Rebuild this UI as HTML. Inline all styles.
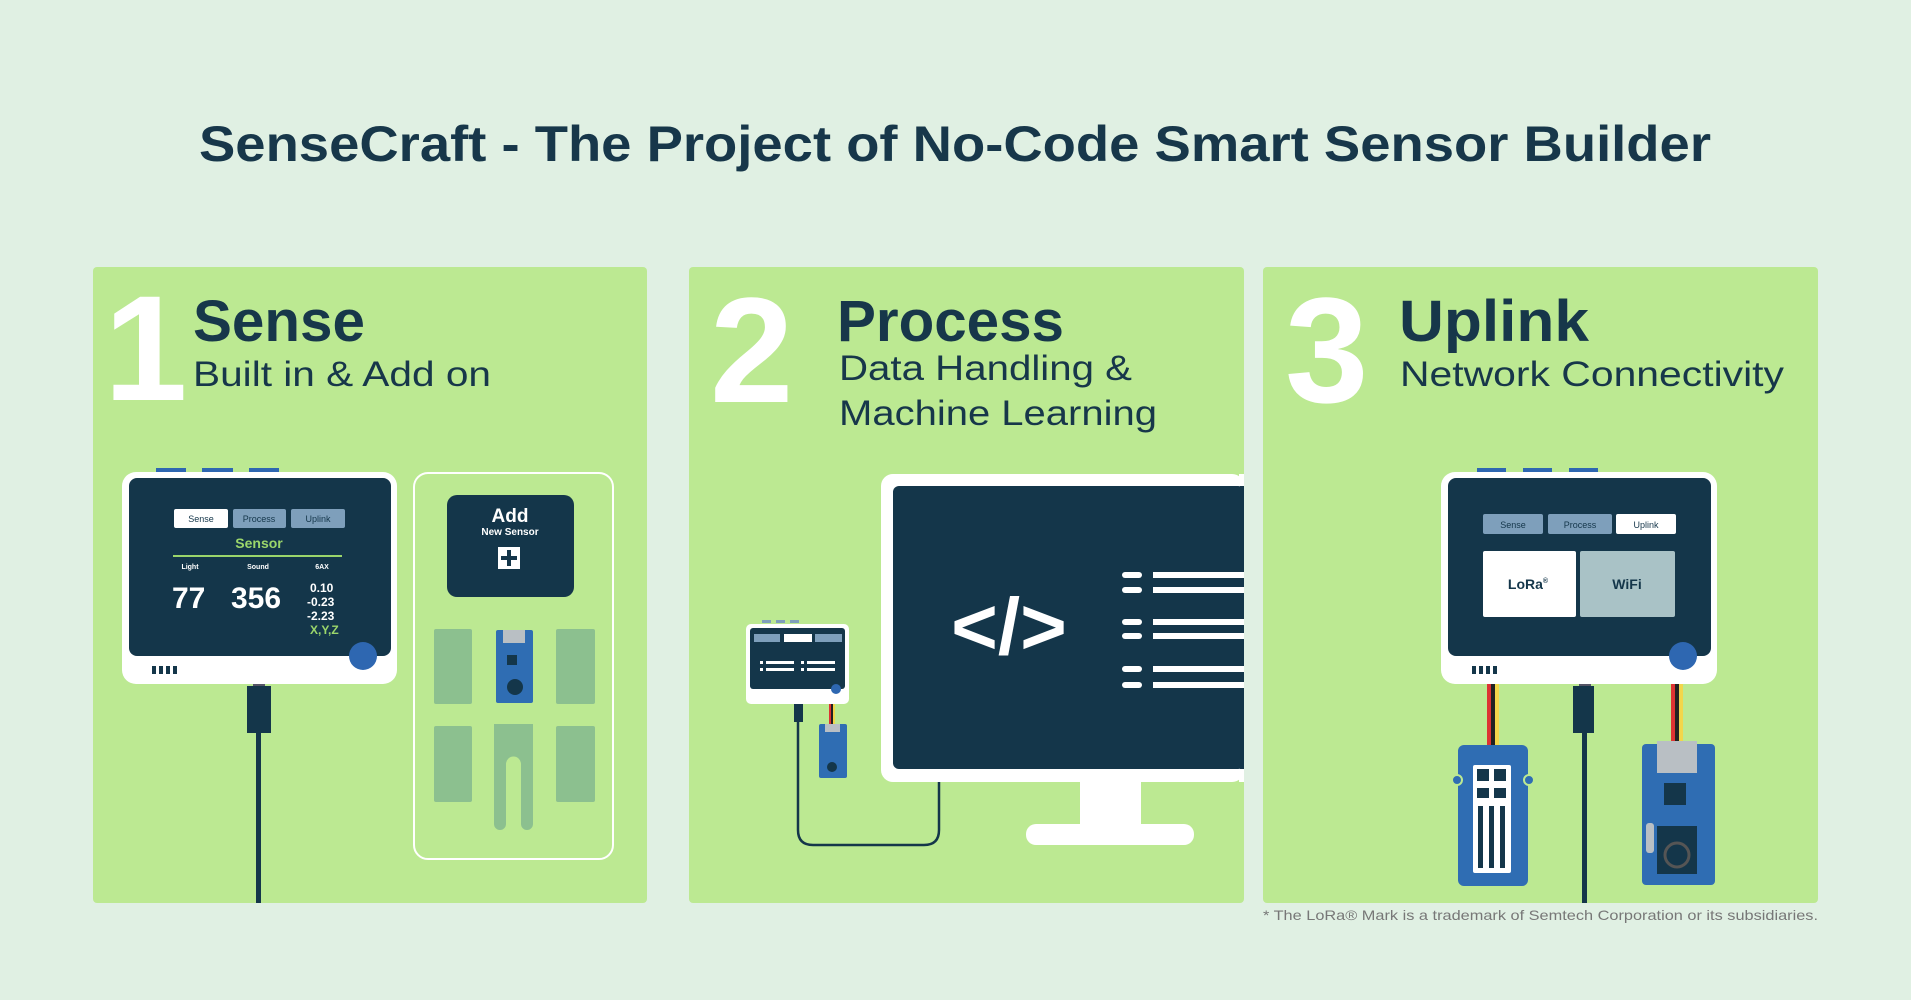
<!DOCTYPE html>
<html><head><meta charset="utf-8"><style>
html,body{margin:0;padding:0;background:#e0f0e3;}
svg{display:block;font-family:"Liberation Sans",sans-serif;}
</style></head><body>
<svg width="1911" height="1000" viewBox="0 0 1911 1000" xmlns="http://www.w3.org/2000/svg">
<rect width="1911" height="1000" fill="#e0f0e3"/>
<text x="955" y="161" text-anchor="middle" font-size="50" font-weight="bold" fill="#17374a" textLength="1512" lengthAdjust="spacingAndGlyphs">SenseCraft - The Project of No-Code Smart Sensor Builder</text>

<!-- panels -->
<rect x="93" y="267" width="554" height="636" rx="4" fill="#bce992"/>
<rect x="689" y="267" width="555" height="636" rx="4" fill="#bce992"/>
<rect x="1263" y="267" width="555" height="636" rx="4" fill="#bce992"/>

<!-- panel 1 headings -->
<text x="104" y="400" font-size="150" font-weight="bold" fill="#fff">1</text>
<text x="193" y="341" font-size="58" font-weight="bold" fill="#17374a" textLength="172" lengthAdjust="spacingAndGlyphs">Sense</text>
<text x="193" y="386" font-size="35" fill="#17374a" textLength="298" lengthAdjust="spacingAndGlyphs">Built in &amp; Add on</text>

<!-- device 1 -->
<rect x="156" y="468" width="30" height="5" fill="#2e67b1"/>
<rect x="202" y="468" width="31" height="5" fill="#2e67b1"/>
<rect x="249" y="468" width="30" height="5" fill="#2e67b1"/>
<rect x="122" y="472" width="275" height="212" rx="14" fill="#fff"/>
<rect x="129" y="478" width="262" height="178" rx="8" fill="#14364a"/>
<rect x="174" y="509" width="54" height="19" rx="2" fill="#fff"/>
<rect x="233" y="509" width="53" height="19" rx="2" fill="#7e9fbb"/>
<rect x="291" y="509" width="54" height="19" rx="2" fill="#7e9fbb"/>
<text x="201" y="522" font-size="9" text-anchor="middle" fill="#14364a">Sense</text>
<text x="259" y="522" font-size="9" text-anchor="middle" fill="#14364a">Process</text>
<text x="318" y="522" font-size="9" text-anchor="middle" fill="#14364a">Uplink</text>
<text x="259" y="548" font-size="14" font-weight="bold" text-anchor="middle" fill="#9bd66b">Sensor</text>
<rect x="173" y="555" width="169" height="2" fill="#9bd66b"/>
<text x="190" y="569" font-size="7" font-weight="bold" text-anchor="middle" fill="#fff">Light</text>
<text x="258" y="569" font-size="7" font-weight="bold" text-anchor="middle" fill="#fff">Sound</text>
<text x="322" y="569" font-size="7" font-weight="bold" text-anchor="middle" fill="#fff">6AX</text>
<text x="172" y="608" font-size="30" font-weight="bold" fill="#fff">77</text>
<text x="231" y="608" font-size="30" font-weight="bold" fill="#fff">356</text>
<text x="310" y="592" font-size="12" font-weight="bold" fill="#fff">0.10</text>
<text x="307" y="606" font-size="12" font-weight="bold" fill="#fff">-0.23</text>
<text x="307" y="620" font-size="12" font-weight="bold" fill="#fff">-2.23</text>
<text x="310" y="634" font-size="12" font-weight="bold" fill="#9bd66b">X,Y,Z</text>
<circle cx="363" cy="656" r="14" fill="#2e67b1"/>
<g fill="#14364a"><rect x="152" y="666" width="4" height="8"/><rect x="159" y="666" width="4" height="8"/><rect x="166" y="666" width="4" height="8"/><rect x="173" y="666" width="4" height="8"/></g>
<rect x="253" y="684" width="12" height="4" fill="#556"/>
<rect x="247" y="686" width="24" height="47" fill="#14364a"/>
<rect x="256" y="733" width="5" height="170" fill="#14364a"/>

<!-- add area -->
<rect x="414" y="473" width="199" height="386" rx="14" fill="none" stroke="#fff" stroke-width="2"/>
<rect x="447" y="495" width="127" height="102" rx="10" fill="#14364a"/>
<text x="510" y="522" font-size="19" font-weight="bold" text-anchor="middle" fill="#fff">Add</text>
<text x="510" y="535" font-size="10" font-weight="bold" text-anchor="middle" fill="#fff">New Sensor</text>
<rect x="498" y="547" width="22" height="22" fill="#fff"/>
<rect x="501" y="556" width="16" height="4" fill="#14364a"/><rect x="507" y="550" width="4" height="16" fill="#14364a"/>
<g fill="#8cc08f">
<rect x="434" y="629" width="38" height="75" rx="2"/>
<rect x="556" y="629" width="39" height="75" rx="2"/>
<rect x="434" y="726" width="38" height="76" rx="2"/>
<rect x="556" y="726" width="39" height="76" rx="2"/>
<path d="M494 724 h39 v100 a6 6 0 0 1 -12 0 v-60 a3 3 0 0 0 -15 0 v60 a6 6 0 0 1 -12 0z"/>
</g>
<rect x="496" y="630" width="37" height="73" rx="2" fill="#2f6db3"/>
<rect x="503" y="630" width="22" height="13" fill="#b9bfc4"/>
<rect x="507" y="655" width="10" height="10" fill="#14364a"/>
<circle cx="515" cy="687" r="8" fill="#14364a"/>

<!-- panel 2 -->
<text x="710" y="402" font-size="150" font-weight="bold" fill="#fff">2</text>
<text x="837" y="341" font-size="58" font-weight="bold" fill="#17374a" textLength="227" lengthAdjust="spacingAndGlyphs">Process</text>
<text x="839" y="380" font-size="35" fill="#17374a" textLength="293" lengthAdjust="spacingAndGlyphs">Data Handling &amp;</text>
<text x="839" y="425" font-size="35" fill="#17374a" textLength="318" lengthAdjust="spacingAndGlyphs">Machine Learning</text>

<rect x="881" y="474" width="363" height="308" rx="12" fill="#fff"/>
<rect x="1239" y="474" width="5" height="308" fill="#fff"/>
<rect x="893" y="486" width="351" height="283" rx="6" fill="#14364a"/>
<rect x="1240" y="486" width="4" height="283" fill="#14364a"/>
<rect x="1080" y="782" width="61" height="44" fill="#fff"/>
<rect x="1026" y="824" width="168" height="21" rx="10" fill="#fff"/>
<text x="1009" y="654" font-size="80" font-weight="bold" text-anchor="middle" fill="#fff">&lt;/&gt;</text>
<g fill="#fff">
<rect x="1122" y="572" width="20" height="6" rx="3"/><rect x="1153" y="572" width="91" height="6"/>
<rect x="1122" y="587" width="20" height="6" rx="3"/><rect x="1153" y="587" width="91" height="6"/>
<rect x="1122" y="619" width="20" height="6" rx="3"/><rect x="1153" y="619" width="91" height="6"/>
<rect x="1122" y="633" width="20" height="6" rx="3"/><rect x="1153" y="633" width="91" height="6"/>
<rect x="1122" y="666" width="20" height="6" rx="3"/><rect x="1153" y="666" width="91" height="6"/>
<rect x="1122" y="682" width="20" height="6" rx="3"/><rect x="1153" y="682" width="91" height="6"/>
</g>
<!-- small device -->
<g fill="#7e9fbb"><rect x="762" y="620" width="9" height="3"/><rect x="776" y="620" width="9" height="3"/><rect x="790" y="620" width="9" height="3"/></g>
<rect x="746" y="624" width="103" height="80" rx="5" fill="#fff"/>
<rect x="750" y="628" width="95" height="61" rx="3" fill="#14364a"/>
<rect x="754" y="634" width="26" height="8" fill="#7e9fbb"/><rect x="784" y="634" width="28" height="8" fill="#fff"/><rect x="815" y="634" width="27" height="8" fill="#7e9fbb"/>
<g fill="#fff"><rect x="760" y="661" width="3" height="3"/><rect x="766" y="661" width="28" height="3"/><rect x="760" y="668" width="3" height="3"/><rect x="766" y="668" width="28" height="3"/><rect x="801" y="661" width="3" height="3"/><rect x="807" y="661" width="28" height="3"/><rect x="801" y="668" width="3" height="3"/><rect x="807" y="668" width="28" height="3"/></g>
<circle cx="836" cy="689" r="5" fill="#2e67b1"/>
<rect x="794" y="704" width="9" height="18" fill="#14364a"/>
<path d="M798 720 V830 q0 15 15 15 H924 q15 0 15 -15 V782" fill="none" stroke="#14364a" stroke-width="2.5"/>
<rect x="829" y="704" width="2" height="20" fill="#d33"/><rect x="831" y="704" width="2" height="20" fill="#222"/><rect x="833" y="704" width="2" height="20" fill="#f2d64b"/>
<rect x="819" y="724" width="28" height="54" rx="2" fill="#2f6db3"/>
<rect x="825" y="724" width="15" height="8" fill="#b9bfc4"/>
<circle cx="832" cy="767" r="5" fill="#14364a"/>

<!-- panel 3 -->
<text x="1285" y="402" font-size="150" font-weight="bold" fill="#fff">3</text>
<text x="1399" y="341" font-size="58" font-weight="bold" fill="#17374a" textLength="190" lengthAdjust="spacingAndGlyphs">Uplink</text>
<text x="1400" y="386" font-size="35" fill="#17374a" textLength="384" lengthAdjust="spacingAndGlyphs">Network Connectivity</text>

<rect x="1477" y="468" width="29" height="5" fill="#2e67b1"/>
<rect x="1523" y="468" width="29" height="5" fill="#2e67b1"/>
<rect x="1569" y="468" width="29" height="5" fill="#2e67b1"/>
<rect x="1441" y="472" width="276" height="212" rx="14" fill="#fff"/>
<rect x="1448" y="478" width="263" height="178" rx="8" fill="#14364a"/>
<rect x="1483" y="514" width="60" height="20" rx="2" fill="#7e9fbb"/>
<rect x="1548" y="514" width="64" height="20" rx="2" fill="#7e9fbb"/>
<rect x="1616" y="514" width="60" height="20" rx="2" fill="#fff"/>
<text x="1513" y="528" font-size="9" text-anchor="middle" fill="#14364a">Sense</text>
<text x="1580" y="528" font-size="9" text-anchor="middle" fill="#14364a">Process</text>
<text x="1646" y="528" font-size="9" text-anchor="middle" fill="#14364a">Uplink</text>
<rect x="1483" y="551" width="93" height="66" rx="2" fill="#fff"/>
<rect x="1580" y="551" width="95" height="66" rx="2" fill="#a9c2c6"/>
<text x="1528" y="589" font-size="14" font-weight="bold" text-anchor="middle" fill="#14364a">LoRa<tspan font-size="7" dy="-6">®</tspan></text>
<text x="1627" y="589" font-size="14" font-weight="bold" text-anchor="middle" fill="#14364a">WiFi</text>
<circle cx="1683" cy="656" r="14" fill="#2e67b1"/>
<g fill="#14364a"><rect x="1472" y="666" width="4" height="8"/><rect x="1479" y="666" width="4" height="8"/><rect x="1486" y="666" width="4" height="8"/><rect x="1493" y="666" width="4" height="8"/></g>
<rect x="1487" y="684" width="4" height="62" fill="#d33"/><rect x="1491" y="684" width="4" height="62" fill="#222"/><rect x="1495" y="684" width="4" height="62" fill="#f2d64b"/>
<rect x="1671" y="684" width="4" height="60" fill="#d33"/><rect x="1675" y="684" width="4" height="60" fill="#222"/><rect x="1679" y="684" width="4" height="60" fill="#f2d64b"/>
<rect x="1579" y="684" width="12" height="4" fill="#556"/>
<rect x="1573" y="686" width="21" height="47" fill="#14364a"/>
<rect x="1582" y="733" width="5" height="170" fill="#14364a"/>
<!-- left sensor -->
<rect x="1458" y="745" width="70" height="141" rx="6" fill="#2f6db3"/>
<circle cx="1457" cy="780" r="5" fill="#2f6db3" stroke="#bce992" stroke-width="2"/>
<circle cx="1529" cy="780" r="5" fill="#2f6db3" stroke="#bce992" stroke-width="2"/>
<rect x="1473" y="765" width="38" height="108" rx="2" fill="#fff"/>
<g fill="#14364a"><rect x="1477" y="769" width="12" height="12"/><rect x="1494" y="769" width="12" height="12"/><rect x="1477" y="788" width="12" height="10"/><rect x="1494" y="788" width="12" height="10"/>
<rect x="1478" y="806" width="5" height="62"/><rect x="1489" y="806" width="5" height="62"/><rect x="1500" y="806" width="5" height="62"/></g>
<!-- right sensor -->
<rect x="1642" y="744" width="73" height="141" rx="4" fill="#2f6db3"/>
<rect x="1657" y="741" width="40" height="32" fill="#b9bfc4"/>
<rect x="1664" y="783" width="22" height="22" fill="#14364a"/>
<rect x="1646" y="823" width="8" height="30" rx="3" fill="#b9bfc4"/>
<rect x="1657" y="826" width="40" height="48" fill="#14364a"/>
<circle cx="1677" cy="855" r="12" fill="none" stroke="#555" stroke-width="3"/>
<text x="1818" y="920" font-size="14" text-anchor="end" fill="#777" textLength="555" lengthAdjust="spacingAndGlyphs">* The LoRa® Mark is a trademark of Semtech Corporation or its subsidiaries.</text>
</svg>
</body></html>
